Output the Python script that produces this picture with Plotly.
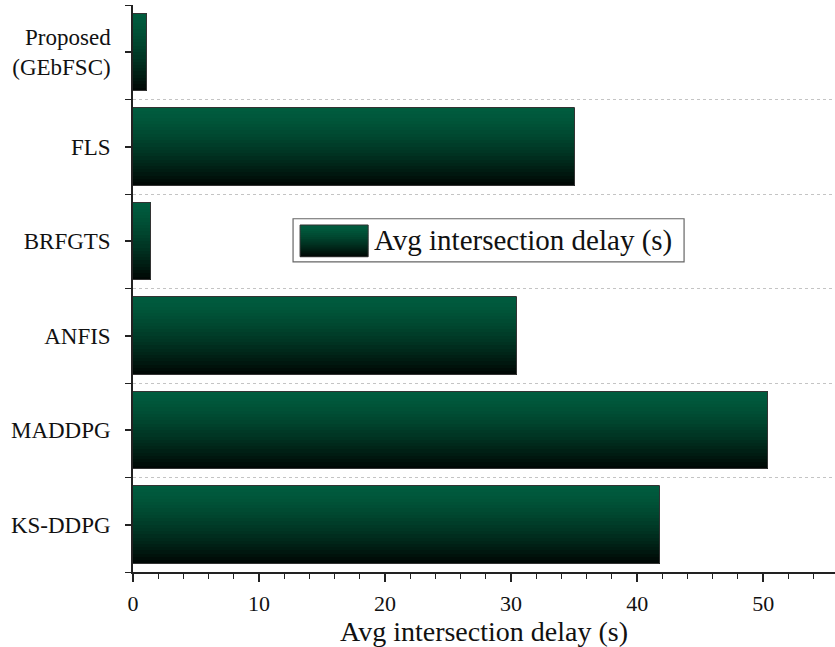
import plotly.graph_objects as go

categories = ["KS-DDPG", "MADDPG", "ANFIS", "BRFGTS", "FLS", "Proposed<br>(GEbFSC)"]
delays = [41.8, 50.4, 30.5, 1.4, 35.1, 1.1]
series_name = "Avg intersection delay (s)"
x_ticks = [0, 10, 20, 30, 40, 50]

FONT = "Liberation Serif, Times New Roman, serif"
TOP = (0, 92, 62)
BOT = (0, 6, 3)
N = 24
BAR_W = 0.82

def grad_color(t):
    f = t ** 1.4
    c = [round(TOP[k] + (BOT[k] - TOP[k]) * f) for k in range(3)]
    return f"rgb({c[0]},{c[1]},{c[2]})"

ypos = list(range(len(categories)))
fig = go.Figure()
strip = BAR_W / N
for i in range(N):
    t = (i + 0.5) / N
    off = BAR_W / 2 - (i + 1) * strip
    fig.add_trace(go.Bar(
        x=delays, y=ypos, orientation="h", width=strip * 1.05, offset=off,
        marker=dict(color=grad_color(t), line=dict(width=0)),
        showlegend=False, hoverinfo="skip"))
fig.add_trace(go.Bar(
    x=delays, y=ypos, orientation="h", width=BAR_W, offset=-BAR_W / 2,
    marker=dict(color="rgba(0,0,0,0)", line=dict(color="#333333", width=1)),
    name=series_name, showlegend=False))

# manual legend
lx0, lx1, ly0, ly1 = 0.228, 0.785, 0.547, 0.623
fig.add_shape(type="rect", xref="paper", yref="paper", x0=lx0, x1=lx1, y0=ly0, y1=ly1,
              line=dict(color="#666666", width=1.2), fillcolor="white", layer="above")
sx0, sx1, sy0, sy1 = 0.238, 0.335, 0.556, 0.612
M = 16
for i in range(M):
    t = (i + 0.5) / M
    ya = sy1 - (i + 1) * (sy1 - sy0) / M
    yb = sy1 - i * (sy1 - sy0) / M
    fig.add_shape(type="rect", xref="paper", yref="paper", x0=sx0, x1=sx1, y0=ya - 0.0005, y1=yb,
                  line=dict(width=0), fillcolor=grad_color(t), layer="above")
fig.add_shape(type="rect", xref="paper", yref="paper", x0=sx0, x1=sx1, y0=sy0, y1=sy1,
              line=dict(color="#333333", width=1), fillcolor="rgba(0,0,0,0)", layer="above")
fig.add_annotation(xref="paper", yref="paper", x=0.340, y=0.585, xanchor="left", yanchor="middle",
                   text=series_name, showarrow=False, font=dict(family=FONT, size=29, color="#111111"))

fig.update_layout(
    width=835, height=647,
    margin=dict(l=133, r=0, t=5, b=75),
    plot_bgcolor="white", paper_bgcolor="white",
    barmode="overlay", bargap=0,
    showlegend=False,
    font=dict(family=FONT, color="#111111"),
)
fig.update_xaxes(
    range=[0, 55.7], tickvals=x_ticks, showgrid=False, zeroline=False, automargin=False,
    showline=True, linecolor="#222222", linewidth=1.5,
    ticks="outside", ticklen=8, tickwidth=1.5, tickcolor="#222222",
    minor=dict(dtick=2, tick0=0, ticks="outside", ticklen=5, tickwidth=1.2, tickcolor="#222222", showgrid=False),
    tickfont=dict(size=22, family=FONT), ticklabelstandoff=3,
    title=dict(text=series_name, font=dict(size=28, family=FONT), standoff=0),
)
fig.update_yaxes(
    range=[-0.5, 5.5], tickvals=ypos, ticktext=categories, showgrid=False, zeroline=False, automargin=False,
    showline=True, linecolor="#222222", linewidth=1.5,
    ticks="outside", ticklen=6, tickwidth=1.5, tickcolor="#222222",
    minor=dict(dtick=1, tick0=0.5, ticks="outside", ticklen=6, tickwidth=1.2, tickcolor="#222222",
               showgrid=True, gridcolor="#c4c4c4", griddash="dot", gridwidth=1),
    tickfont=dict(size=23, family=FONT), ticklabelstandoff=10,
)

fig.write_html("out.html", config={"displayModeBar": False},
               post_script="document.body.style.margin='0';document.body.style.overflow='hidden';")
